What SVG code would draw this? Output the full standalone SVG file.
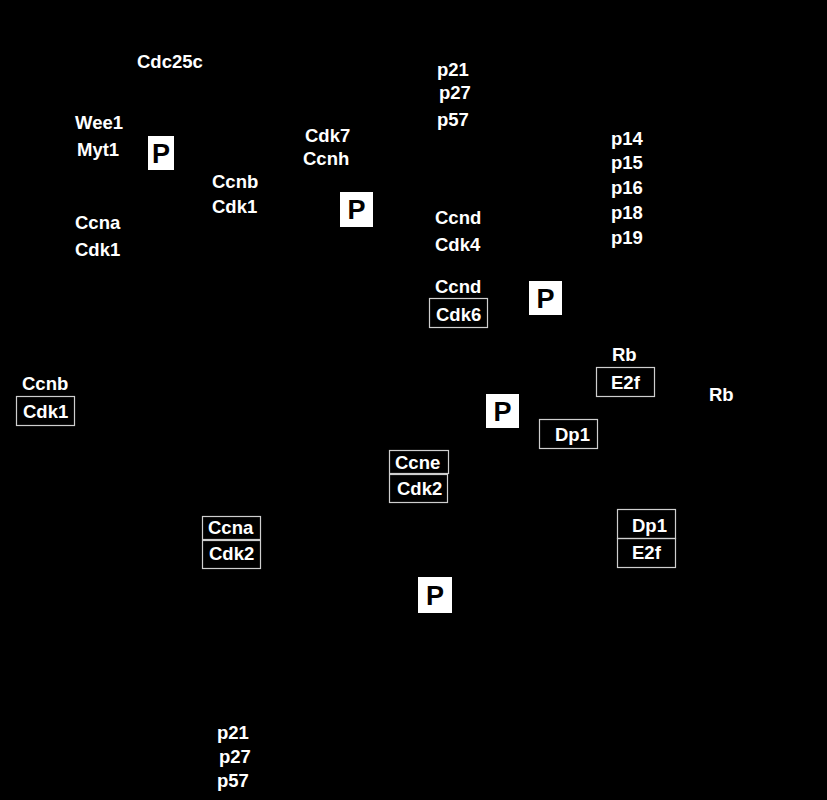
<svg xmlns="http://www.w3.org/2000/svg" width="827" height="800" viewBox="0 0 827 800">
<style>
text{font-family:"Liberation Sans",Arial,sans-serif;font-weight:bold;font-size:18.5px;fill:#fff}
.b{fill:none;stroke:#cfcfcf;stroke-width:1.2}
.pb{fill:#fff}
.p{fill:#000;font-size:27px}
</style>
<rect width="827" height="800" fill="#000"/>
<g id="connectors"/>
<g id="cdc25c"><text x="137" y="68">Cdc25c</text></g>
<g id="wee1-myt1"><text x="75" y="129">Wee1</text><text x="77" y="156">Myt1</text></g>
<g id="p1"><rect class="pb" x="148" y="136" width="26" height="34"/><text class="p" x="161" y="163" text-anchor="middle">P</text></g>
<g id="ccnb-cdk1-top"><text x="212" y="188">Ccnb</text><text x="212" y="213">Cdk1</text></g>
<g id="ccna-cdk1"><text x="75" y="229">Ccna</text><text x="75" y="256">Cdk1</text></g>
<g id="cdk7-ccnh"><text x="305" y="142">Cdk7</text><text x="303" y="165">Ccnh</text></g>
<g id="p2"><rect class="pb" x="340" y="192" width="33" height="35"/><text class="p" x="356.5" y="219" text-anchor="middle">P</text></g>
<g id="p21-top"><text x="437" y="76">p21</text><text x="439" y="99">p27</text><text x="437" y="126">p57</text></g>
<g id="ccnd-cdk4"><text x="435" y="224">Ccnd</text><text x="435" y="251">Cdk4</text></g>
<g id="ccnd-cdk6"><text x="435" y="293">Ccnd</text><rect class="b" x="429.5" y="298.5" width="58" height="29"/><text x="436" y="321">Cdk6</text></g>
<g id="p3"><rect class="pb" x="529" y="281" width="33" height="34"/><text class="p" x="545.5" y="308" text-anchor="middle">P</text></g>
<g id="ink4"><text x="611" y="145">p14</text><text x="611" y="169">p15</text><text x="611" y="194">p16</text><text x="611" y="219">p18</text><text x="611" y="244">p19</text></g>
<g id="rb-e2f"><text x="612" y="361">Rb</text><rect class="b" x="596.5" y="367.5" width="58" height="29"/><text x="611" y="389">E2f</text></g>
<g id="rb"><text x="709" y="401">Rb</text></g>
<g id="p4"><rect class="pb" x="486" y="394" width="33" height="34"/><text class="p" x="502.5" y="421" text-anchor="middle">P</text></g>
<g id="dp1"><rect class="b" x="539.5" y="419.5" width="58" height="29"/><text x="555" y="441">Dp1</text></g>
<g id="ccnb-cdk1"><text x="22" y="390">Ccnb</text><rect class="b" x="16.5" y="396.5" width="58" height="29"/><text x="23" y="418">Cdk1</text></g>
<g id="ccne-cdk2"><rect class="b" x="389.5" y="450.5" width="59" height="23"/><text x="395" y="469">Ccne</text><rect class="b" x="389.5" y="474.5" width="58" height="28"/><text x="397" y="495">Cdk2</text></g>
<g id="ccna-cdk2"><rect class="b" x="202.5" y="516.5" width="58" height="23"/><text x="208" y="534">Ccna</text><rect class="b" x="202.5" y="540.5" width="58" height="28"/><text x="209" y="560">Cdk2</text></g>
<g id="dp1-e2f"><rect class="b" x="617.5" y="509.5" width="58" height="29"/><text x="632" y="532">Dp1</text><rect class="b" x="617.5" y="538.5" width="58" height="29"/><text x="632" y="559">E2f</text></g>
<g id="p5"><rect class="pb" x="418" y="577" width="34" height="36"/><text class="p" x="435" y="605" text-anchor="middle">P</text></g>
<g id="p21-bottom"><text x="217" y="739">p21</text><text x="219" y="763">p27</text><text x="217" y="787">p57</text></g>
</svg>
